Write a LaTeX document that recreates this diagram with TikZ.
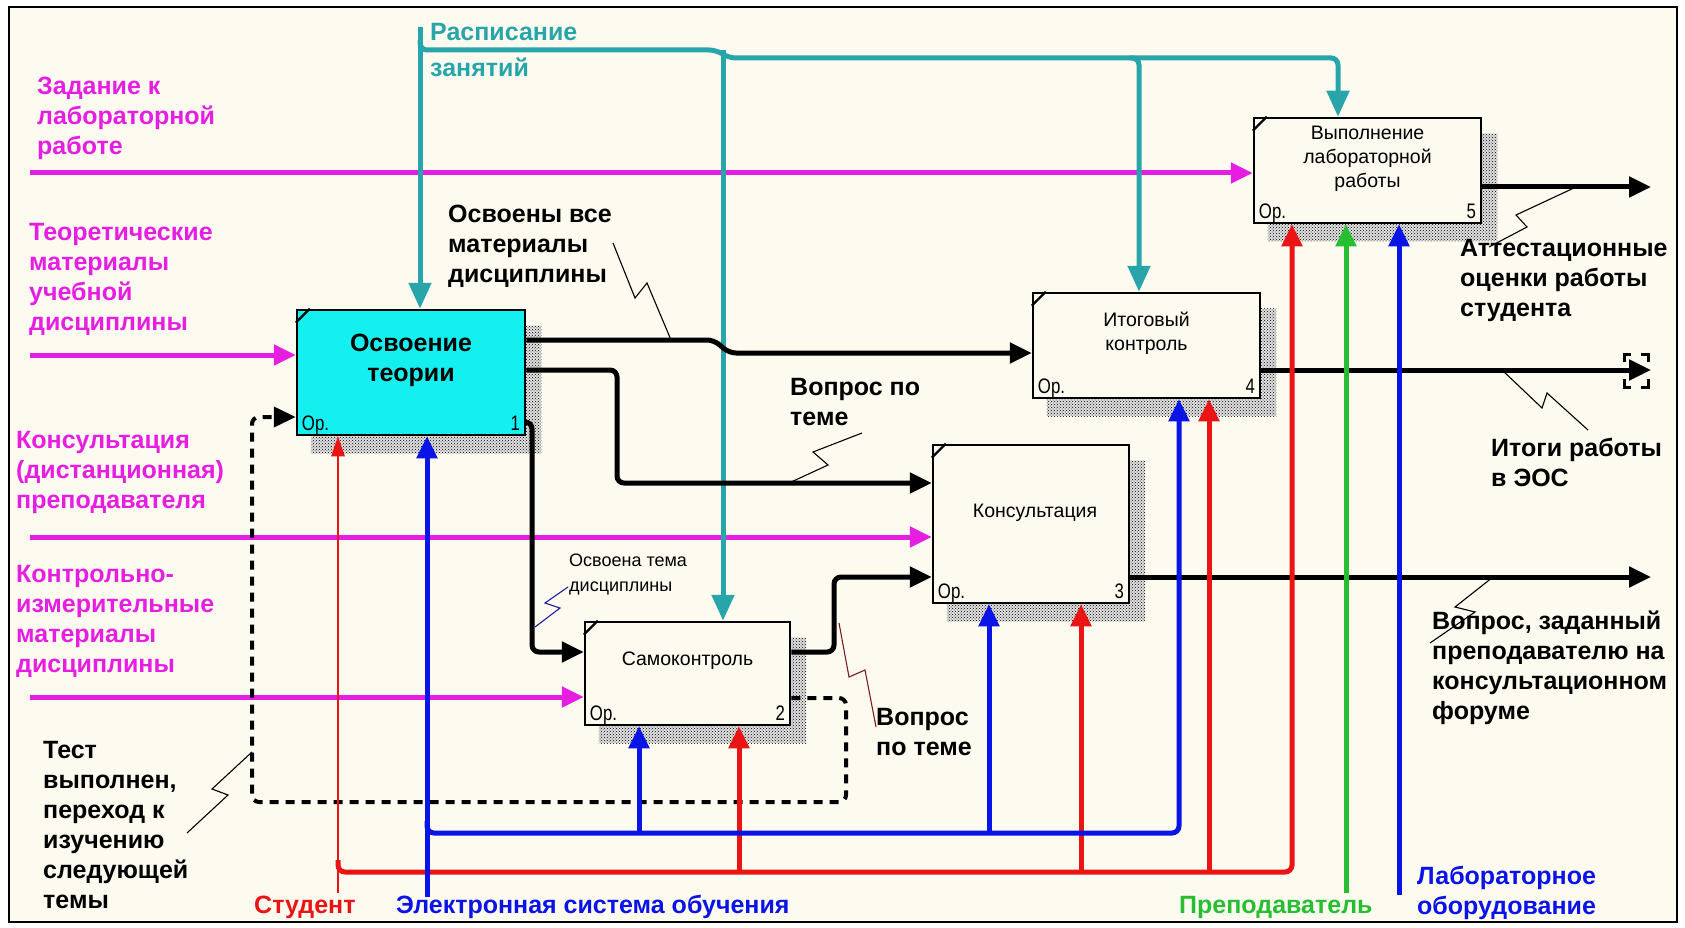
\documentclass[tikz,border=0pt]{standalone}
\usepackage{fontspec}
\setmainfont{Liberation Sans}
\newfontfamily\narrowf[FakeStretch=0.8]{Liberation Sans}
\usetikzlibrary{arrows.meta,patterns,calc}
\definecolor{bgc}{RGB}{253,250,240}
\definecolor{magc}{RGB}{230,30,225}
\definecolor{tealc}{RGB}{40,165,170}
\definecolor{redc}{RGB}{235,20,20}
\definecolor{bluec}{RGB}{10,20,230}
\definecolor{greenc}{RGB}{40,190,50}
\definecolor{cyanc}{RGB}{20,240,240}
\definecolor{ptrred}{RGB}{120,30,30}
\definecolor{ptrblue}{RGB}{30,30,160}
\pgfdeclarelayer{bglayer}
\pgfdeclarelayer{shadowlayer}
\pgfsetlayers{bglayer,shadowlayer,main}
\begin{document}
\begin{tikzpicture}[x=1pt,y=-1pt,
  box/.style={draw,line width=2.5pt,inner sep=0pt,fill=bgc},
  boxtext/.style={font=\fontsize{19.5}{24}\selectfont,align=center,inner sep=0pt},
  optext/.style={font=\narrowf\fontsize{21}{21}\selectfont,inner sep=0pt},
  lbl/.style={font=\bfseries\fontsize{25}{30}\selectfont,align=left,inner sep=0pt,anchor=west},
  tip/.style={-{Triangle[length=22pt,width=20pt]}},
  ttip/.style={-{Triangle[length=26pt,width=22pt]}},
  flow/.style={line width=5pt,rounded corners=7pt},
  ptr/.style={line width=1.1pt},
  shadowpat/.style={pattern=crosshatch dots,pattern color=black}
]
\useasboundingbox (0,0) rectangle (1685,928);
\begin{pgfonlayer}{bglayer}
\fill[white] (0,0) rectangle (1685,928);
\fill[bgc] (9,7) rectangle (1677,922);
\draw[line width=2.5pt] (9,7) rectangle (1677,922);
\end{pgfonlayer}

% boxes
\node[box,fill=cyanc,minimum width=228pt,minimum height=125pt] (b1) at (411,372.5) {};
\node[box,minimum width=205pt,minimum height=103pt] (b2) at (687.5,673.5) {};
\node[box,minimum width=196pt,minimum height=158pt] (b3) at (1031,524) {};
\node[box,minimum width=227pt,minimum height=105pt] (b4) at (1146.5,345.5) {};
\node[box,minimum width=227pt,minimum height=105pt] (b5) at (1367.5,170.5) {};

\begin{pgfonlayer}{shadowlayer}
\foreach \b in {b1,b2,b3,b4,b5}{
  \fill[black!12] ([shift={(15,17)}]\b.north west) rectangle ([shift={(15,17)}]\b.south east);
  \fill[shadowpat] ([shift={(15,17)}]\b.north west) rectangle ([shift={(15,17)}]\b.south east);
}
\end{pgfonlayer}

\foreach \b in {b1,b2,b3,b4,b5}
  \draw[line width=2.2pt] ([yshift=-14pt]\b.north west) -- ([xshift=14pt]\b.north west);

% box texts
\node[boxtext,font=\bfseries\fontsize{25}{30}\selectfont] (b1t) at ([yshift=12pt]b1.center) {Освоение\\теории};
\node[boxtext] (b2t) at ([yshift=13pt]b2.center) {Самоконтроль};
\node[boxtext] (b3t) at ([yshift=11pt,xshift=4pt]b3.center) {Консультация};
\node[boxtext] (b4t) at ([yshift=12pt]b4.center) {Итоговый\\контроль};
\node[boxtext] (b5t) at ([yshift=12pt]b5.center) {Выполнение\\лабораторной\\работы};
\foreach \b/\n in {b1/1,b2/2,b3/3,b4/4,b5/5}{
  \node[optext,anchor=base west] (\b op) at ([shift={(6,-6)}]\b.south west) {Ор.};
  \node[optext,anchor=base east] (\b num) at ([shift={(-6,-6)}]\b.south east) {\n};
}

% magenta inputs
\coordinate (m1) at (30,173);
\coordinate (m2) at (30,355);
\coordinate (m3) at (30,537);
\coordinate (m4) at (30,697);
\draw[flow,magc,tip] (m1) -- (m1 -| b5.west);
\draw[flow,magc,tip] (m2) -- (m2 -| b1.west);
\draw[flow,magc,tip] (m3) -- (m3 -| b3.west);
\draw[flow,magc,tip] (m4) -- (m4 -| b2.west);

% teal controls
\coordinate (t0) at (420,27);
\coordinate (tj2) at (723,50);
\coordinate (tj4) at (1130,58);
\coordinate (tj4b) at (1139,58);
\coordinate (tc5) at (1338,58);
\draw[flow,tealc,ttip] (t0) -- (t0 |- b1.north);
\draw[flow,tealc,ttip] (420,40) -- (420,50) -- (716,50) -- (729,58) -- (tc5) -- (tc5 |- b5.north);
\draw[flow,tealc,ttip] (tj2) -- (tj2 |- b2.north);
\draw[flow,tealc,ttip] (tj4) -- (tj4b) -- (tj4b |- b4.north);

% black outputs
\coordinate (o1a) at (714,340);
\coordinate (o1b) at (729,353);
\draw[flow,black,tip] (b1.east |- o1a) -- (o1a) -- (o1b) -- (o1b -| b4.west);
\coordinate (o2a) at (617,370);
\coordinate (o2b) at (617,483);
\draw[flow,black,tip] (b1.east |- o2a) -- (o2a) -- (o2b) -- (o2b -| b3.west);
\coordinate (o3a) at (532,422);
\coordinate (o3b) at (532,652);
\draw[flow,black,tip] (b1.east |- o3a) -- (o3a) -- (o3b) -- (o3b -| b2.west);
\coordinate (o4a) at (834,652);
\coordinate (o4b) at (834,577);
\draw[flow,black,tip] (b2.east |- o4a) -- (o4a) -- (o4b) -- (o4b -| b3.west);
\coordinate (d1) at (846,698);
\coordinate (d2) at (846,802);
\coordinate (d3) at (252,802);
\coordinate (d4) at (252,417);
\draw[line width=4pt,rounded corners=7pt,dash pattern=on 9pt off 7pt,tip] (b2.east |- d1) -- (d1) -- (d2) -- (d3) -- (d4) -- (d4 -| b1.west);
\coordinate (e3) at (1651,577);
\coordinate (e4) at (1651,370);
\coordinate (e5) at (1651,187);
\draw[flow,black,tip] (b3.east |- e3) -- (e3);
\draw[flow,black,tip] (b4.east |- e4) -- (e4);
\draw[flow,black,tip] (b5.east |- e5) -- (e5);
% tunnel brackets
\draw[line width=3pt] (1624,362) -- (1624,354) -- (1631,354) (1641,354) -- (1648,354) -- (1648,362)
  (1624,379) -- (1624,387) -- (1631,387) (1641,387) -- (1648,387) -- (1648,379);

% mechanisms
\coordinate (rs) at (338,893);
\draw[redc,line width=2.5pt,-{Triangle[length=20pt,width=13pt]}] (rs) -- (rs |- b1.south);
\coordinate (rr5) at (1292,872);
\draw[flow,redc,tip] (338,860) -- (338,872) -- (rr5) -- (rr5 |- b5.south);
\coordinate (rb2) at (739,872);
\coordinate (rb3) at (1081,872);
\coordinate (rb4) at (1209,872);
\draw[flow,redc,tip] (rb2) -- (rb2 |- b2.south);
\draw[flow,redc,tip] (rb3) -- (rb3 |- b3.south);
\draw[flow,redc,tip] (rb4) -- (rb4 |- b4.south);

\coordinate (bs) at (427,897);
\draw[flow,bluec,tip] (bs) -- (bs |- b1.south);
\coordinate (bb4) at (1179,833);
\draw[flow,bluec,tip] (427,821) -- (427,833) -- (bb4) -- (bb4 |- b4.south);
\coordinate (bb2) at (639,833);
\coordinate (bb3) at (989,833);
\draw[flow,bluec,tip] (bb2) -- (bb2 |- b2.south);
\draw[flow,bluec,tip] (bb3) -- (bb3 |- b3.south);

\coordinate (gs) at (1346,893);
\draw[flow,greenc,tip] (gs) -- (gs |- b5.south);
\coordinate (ls) at (1399,895);
\draw[flow,bluec,tip] (ls) -- (ls |- b5.south);

% labels
\node[lbl,text=magc] (lzad) at (37,118.5) {Задание к\\лабораторной\\работе};
\node[lbl,text=magc] (lteor) at (29,279) {Теоретические\\материалы\\учебной\\дисциплины};
\node[lbl,text=magc] (lkons) at (16,472) {Консультация\\(дистанционная)\\преподавателя};
\node[lbl,text=magc] (lkim) at (16,621) {Контрольно-\\измерительные\\материалы\\дисциплины};
\node[lbl] (ltest) at (43,825) {Тест\\выполнен,\\переход к\\изучению\\следующей\\темы};
\node[lbl] (losv) at (448,246) {Освоены все\\материалы\\дисциплины};
\node[lbl] (lvop1) at (790,402) {Вопрос по\\теме};
\node[lbl] (lvop2) at (876,732) {Вопрос\\по теме};
\node[lbl] (latt) at (1460,280) {Аттестационные\\оценки работы\\студента};
\node[lbl] (litog) at (1491,462) {Итоги работы\\в ЭОС};
\node[lbl] (lvopz) at (1432,668) {Вопрос, заданный\\преподавателю на\\консультационном\\форуме};
\node[lbl,text=tealc] (lrasp1) at (430,32) {Расписание};
\node[lbl,text=tealc] (lrasp2) at (430,67) {занятий};
\node[lbl,text=redc] (lstud) at (254,907) {Студент};
\node[lbl,text=bluec] (leos) at (396,907) {Электронная система обучения};
\node[lbl,text=greenc] (lprep) at (1179,907) {Преподаватель};
\node[lbl,text=bluec] (llab) at (1417,893) {Лабораторное\\оборудование};
\node[font=\fontsize{18}{25}\selectfont,align=left,inner sep=0pt,anchor=west] (losvt) at (569,574.5) {Освоена тема\\дисциплины};

% pointer squiggles
\draw[ptr] (613,243) -- (635,298) -- (647,283) -- (671,340);
\draw[ptr] (862,433) -- (813,452) -- (828,465) -- (789,483);
\draw[ptr,ptrblue] (568,587) -- (545,603) -- (560,608) -- (535,627);
\draw[ptr,ptrred] (839,623) -- (849,677) -- (865,670) -- (876,727);
\draw[ptr] (187,833) -- (228,795) -- (212,789) -- (252,752);
\draw[ptr] (1576,187) -- (1516,215) -- (1527,227) -- (1489,247);
\draw[ptr] (1502,370) -- (1542,408) -- (1547,393) -- (1588,430);
\draw[ptr] (1493,577) -- (1455,607) -- (1475,612) -- (1430,643);
\end{tikzpicture}
\end{document}
